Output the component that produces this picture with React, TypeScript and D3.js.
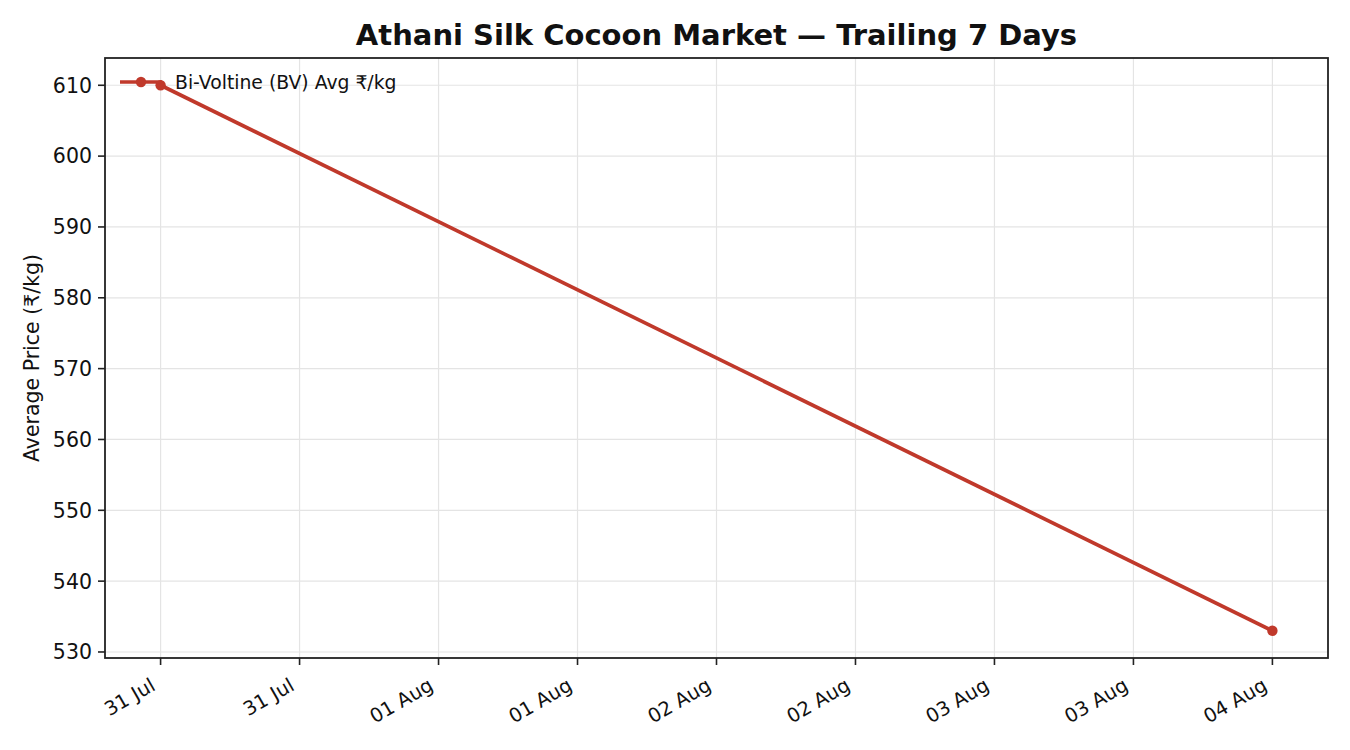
import React, { useEffect, useRef } from "react";
import * as d3 from "d3";

const dates = ["2025-07-31", "2025-08-04"];
const bvPrices = [610, 533];
const yTicks = [530, 540, 550, 560, 570, 580, 590, 600, 610];
const seriesName = "Bi-Voltine (BV) Avg ₹/kg";
const titleText = "Athani Silk Cocoon Market — Trailing 7 Days";
const yLabel = "Average Price (₹/kg)";

const W = 1350, H = 750;
const M = { left: 105, right: 1328, top: 58, bottom: 658 };
const COLOR = "#c0392b";
const FONT = "DejaVu Sans, sans-serif";

export default function App() {
  const ref = useRef<SVGSVGElement>(null);
  useEffect(() => {
    const svg = d3.select(ref.current);
    svg.selectAll("*").remove();
    const parse = d3.timeParse("%Y-%m-%d");
    const pts = dates.map((d, i) => ({ t: parse(d) as Date, v: bvPrices[i] }));
    const t0 = +pts[0].t, t1 = +pts[pts.length - 1].t;
    const tp = (t1 - t0) * 0.05;
    const x = d3.scaleTime().domain([new Date(t0 - tp), new Date(t1 + tp)]).range([M.left, M.right]);
    const vmin = d3.min(bvPrices)!, vmax = d3.max(bvPrices)!;
    const vp = (vmax - vmin) * 0.05;
    const y = d3.scaleLinear().domain([vmin - vp, vmax + vp]).range([M.bottom, M.top]);

    svg.append("rect").attr("width", W).attr("height", H).attr("fill", "white");

    const xt = d3.timeHour.every(12)!.range(new Date(t0 - tp), new Date(t1 + tp + 1));
    const g = svg.append("g");
    g.selectAll(".gx").data(xt).enter().append("line")
      .attr("x1", d => x(d)).attr("x2", d => x(d)).attr("y1", M.top).attr("y2", M.bottom)
      .attr("stroke", "#e4e4e4").attr("stroke-width", 1.2);
    g.selectAll(".gy").data(yTicks).enter().append("line")
      .attr("y1", d => y(d)).attr("y2", d => y(d)).attr("x1", M.left).attr("x2", M.right)
      .attr("stroke", "#e4e4e4").attr("stroke-width", 1.2);

    const line = d3.line<{ t: Date; v: number }>().x(d => x(d.t)).y(d => y(d.v));
    svg.append("path").datum(pts).attr("d", line).attr("fill", "none")
      .attr("stroke", COLOR).attr("stroke-width", 3.7).attr("stroke-linejoin", "round");
    svg.selectAll(".pt").data(pts).enter().append("circle")
      .attr("cx", d => x(d.t)).attr("cy", d => y(d.v)).attr("r", 5.2).attr("fill", COLOR);

    svg.append("rect").attr("x", M.left).attr("y", M.top).attr("width", M.right - M.left)
      .attr("height", M.bottom - M.top).attr("fill", "none").attr("stroke", "#222").attr("stroke-width", 1.8);

    const fmt = d3.timeFormat("%d %b");
    xt.forEach(d => {
      const px = x(d);
      svg.append("line").attr("x1", px).attr("x2", px).attr("y1", M.bottom).attr("y2", M.bottom + 7)
        .attr("stroke", "#222").attr("stroke-width", 1.6);
      svg.append("text").attr("transform", `translate(${px - 11},${M.bottom + 19}) rotate(-30)`)
        .attr("text-anchor", "end").attr("dy", "0.72em")
        .attr("font-family", FONT).attr("font-size", 19.5).attr("fill", "#111").text(fmt(d));
    });
    yTicks.forEach(v => {
      const py = y(v);
      svg.append("line").attr("x1", M.left - 7).attr("x2", M.left).attr("y1", py).attr("y2", py)
        .attr("stroke", "#222").attr("stroke-width", 1.6);
      svg.append("text").attr("x", M.left - 13).attr("y", py).attr("dy", "0.36em")
        .attr("text-anchor", "end").attr("font-family", FONT).attr("font-size", 20.5)
        .attr("fill", "#111").text(v);
    });

    svg.append("text").attr("x", (M.left + M.right) / 2).attr("y", 45).attr("text-anchor", "middle")
      .attr("font-family", FONT).attr("font-weight", "bold").attr("font-size", 29).attr("fill", "#111")
      .text(titleText);
    svg.append("text").attr("transform", `translate(39,${(M.top + M.bottom) / 2}) rotate(-90)`)
      .attr("text-anchor", "middle").attr("font-family", FONT).attr("font-size", 20.5).attr("fill", "#111")
      .text(yLabel);

    const ly = 82;
    svg.append("line").attr("x1", 120).attr("x2", 162).attr("y1", ly).attr("y2", ly)
      .attr("stroke", COLOR).attr("stroke-width", 3.7);
    svg.append("circle").attr("cx", 141).attr("cy", ly).attr("r", 5.2).attr("fill", COLOR);
    svg.append("text").attr("x", 175).attr("y", ly).attr("dy", "0.35em")
      .attr("font-family", FONT).attr("font-size", 18.8).attr("fill", "#111").text(seriesName);
  }, []);
  return <svg ref={ref} width={W} height={H} style={{ display: "block", position: "absolute", left: 0, top: 0 }} />;
}
